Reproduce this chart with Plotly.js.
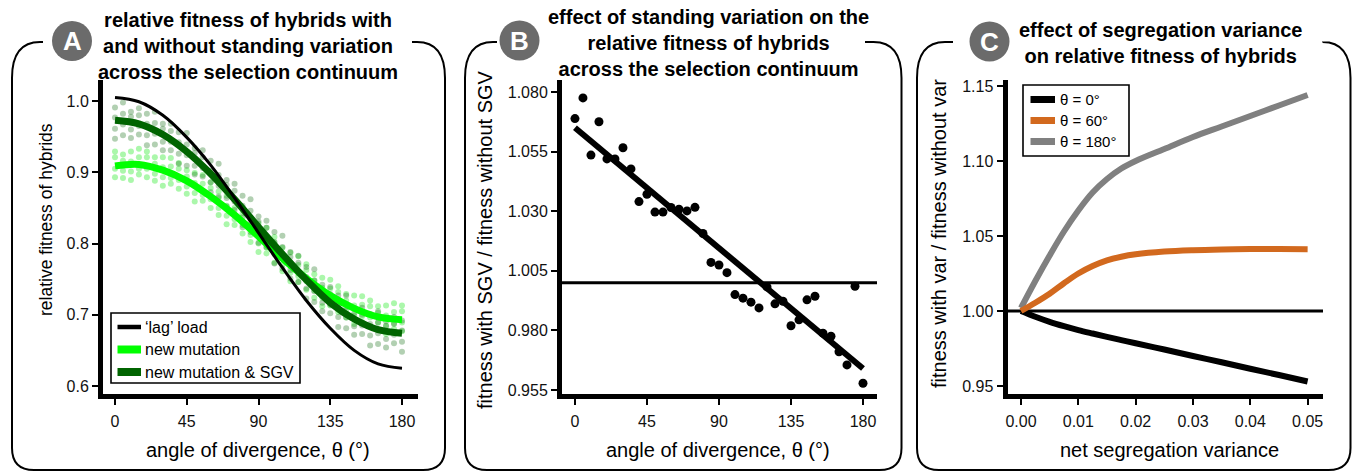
<!DOCTYPE html>
<html>
<head>
<meta charset="utf-8">
<script src="https://cdn.plot.ly/plotly-3.0.1.min.js"></script>
<style>html,body{margin:0;padding:0;background:#fff;}#chart{width:1354px;height:472px;}</style>
</head>
<body>
<div id="chart"></div>
<script>
// ---------------- DATA ----------------
// Panel A: fitted curves (angle of divergence, degrees)
const thetaCurve = [0, 15, 30, 45, 60, 75, 90, 105, 120, 135, 150, 165, 180];
const lagLoad    = [1.005, 0.999, 0.980, 0.949, 0.910, 0.864, 0.815, 0.766, 0.720, 0.681, 0.650, 0.631, 0.625];
const newMutFit  = [0.909, 0.911, 0.903, 0.888, 0.866, 0.840, 0.810, 0.779, 0.751, 0.727, 0.709, 0.697, 0.693];
const sgvFit     = [0.973, 0.968, 0.953, 0.929, 0.898, 0.862, 0.823, 0.785, 0.749, 0.717, 0.694, 0.679, 0.674];
// Panel A: simulation replicates (one row per angle)
const thetaDots = [0,5,10,15,20,25,30,35,40,45,50,55,60,65,70,75,80,85,90,95,100,105,110,115,120,125,130,135,140,145,150,155,160,165,170,175,180];
const sgvDots = [
 [0.991,0.961,0.977,0.947],[0.952,0.982,0.998,0.967],[0.978,0.948,0.985,0.960],[0.953,0.990,0.965,0.980],
 [0.982,0.952,0.968,0.938],[0.939,0.969,0.985,0.954],[0.961,0.931,0.968,0.943],[0.931,0.968,0.943,0.958],
 [0.956,0.926,0.942,0.912],[0.909,0.939,0.955,0.924],[0.927,0.897,0.934,0.909],[0.894,0.931,0.906,0.921],
 [0.916,0.886,0.902,0.872],[0.866,0.896,0.912,0.881],[0.882,0.852,0.889,0.864],[0.847,0.884,0.859,0.874],
 [0.867,0.837,0.853,0.823],[0.816,0.846,0.862,0.831],[0.831,0.801,0.838,0.813],[0.795,0.832,0.807,0.822],
 [0.816,0.786,0.802,0.772],[0.765,0.795,0.811,0.780],[0.781,0.751,0.788,0.763],[0.746,0.783,0.758,0.773],
 [0.767,0.737,0.753,0.723],[0.718,0.748,0.764,0.733],[0.735,0.705,0.742,0.717],[0.702,0.739,0.714,0.729],
 [0.727,0.697,0.713,0.683],[0.681,0.711,0.727,0.696],[0.702,0.672,0.709,0.684],[0.673,0.710,0.685,0.700],
 [0.701,0.671,0.687,0.657],[0.659,0.689,0.705,0.674],[0.684,0.654,0.691,0.666],[0.660,0.697,0.672,0.687],
 [0.692,0.662,0.678,0.648]
];
const newDots = [
 [0.893,0.921,0.905,0.929],[0.925,0.892,0.916,0.902],[0.901,0.929,0.889,0.915],[0.921,0.905,0.933,0.897],
 [0.893,0.921,0.905,0.929],[0.921,0.888,0.912,0.898],[0.893,0.921,0.881,0.907],[0.908,0.892,0.920,0.884],
 [0.877,0.905,0.889,0.913],[0.903,0.870,0.894,0.880],[0.871,0.899,0.859,0.885],[0.884,0.868,0.896,0.860],
 [0.850,0.878,0.862,0.886],[0.873,0.840,0.864,0.850],[0.839,0.867,0.827,0.853],[0.850,0.834,0.862,0.826],
 [0.814,0.842,0.826,0.850],[0.835,0.802,0.826,0.812],[0.800,0.828,0.788,0.814],[0.810,0.794,0.822,0.786],
 [0.773,0.801,0.785,0.809],[0.794,0.761,0.785,0.771],[0.759,0.787,0.747,0.773],[0.770,0.754,0.782,0.746],
 [0.735,0.763,0.747,0.771],[0.757,0.724,0.748,0.734],[0.724,0.752,0.712,0.738],[0.737,0.721,0.749,0.713],
 [0.704,0.732,0.716,0.740],[0.729,0.696,0.720,0.706],[0.699,0.727,0.687,0.713],[0.714,0.698,0.726,0.690],
 [0.684,0.712,0.696,0.720],[0.712,0.679,0.703,0.689],[0.685,0.713,0.673,0.699],[0.704,0.688,0.716,0.680],
 [0.677,0.705,0.689,0.713]
];
const namesA = ["\u2018lag\u2019 load", "new mutation", "new mutation & SGV"];
const colorsA = ["#000000", "#00ff00", "#006400"];

// Panel B: fitness with SGV / fitness without SGV
const thetaB = [0,5,10,15,20,25,30,35,40,45,50,55,60,65,70,75,80,85,90,95,100,105,110,115,120,125,130,135,140,145,150,155,160,165,170,175,180];
const ratioB = [1.0688,1.0775,1.0535,1.0675,1.0519,1.0519,1.0566,1.0477,1.0340,1.0371,
                1.0296,1.0296,1.0315,1.0308,1.0301,1.0316,1.0206,1.0085,1.0074,1.0042,
                0.9950,0.9935,0.9918,0.9894,0.9982,0.9911,0.9922,0.9819,0.9844,0.9928,
                0.9943,0.9788,0.9775,0.9710,0.9655,0.9985,0.9578];
const fitThetaB = [0, 180];
const fitB = [1.065, 0.964];

// Panel C: fitness with var / fitness without var vs net segregation variance
const segVar   = [0, 0.0025, 0.005, 0.0075, 0.01, 0.0125, 0.015, 0.0175, 0.02, 0.025, 0.03, 0.035, 0.04, 0.045, 0.05];
const theta0   = [1.000, 0.9962, 0.9928, 0.9899, 0.9873, 0.9850, 0.9828, 0.9806, 0.9785, 0.9743, 0.9700, 0.9658, 0.9615, 0.9573, 0.9530];
const theta60  = [1.000, 1.0055, 1.0115, 1.0185, 1.0250, 1.0300, 1.0338, 1.0362, 1.0378, 1.0396, 1.0405, 1.0410, 1.0413, 1.0413, 1.0411];
const theta180 = [1.002, 1.020, 1.037, 1.053, 1.067, 1.079, 1.088, 1.095, 1.100, 1.108, 1.116, 1.123, 1.130, 1.137, 1.144];
const namesC = ["\u03b8 = 0\u00b0", "\u03b8 = 60\u00b0", "\u03b8 = 180\u00b0"];
const colorsC = ["#000000", "#d2691e", "#808080"];

// Tick labels
const ticksTheta = [0, 45, 90, 135, 180];
const ticksA = [0.6, 0.7, 0.8, 0.9, 1.0];
const ticksB = [0.955, 0.980, 1.005, 1.030, 1.055, 1.080];
const ticksCx = [0, 0.01, 0.02, 0.03, 0.04, 0.05];
const ticksCy = [0.95, 1.00, 1.05, 1.10, 1.15];

// Titles
const panelTitles = [
  "relative fitness of hybrids with<br>and without standing variation<br>across the selection continuum",
  "effect of standing variation on the<br>relative fitness of hybrids<br>across the selection continuum",
  "effect of segregation variance<br>on relative fitness of hybrids"
];
const xTitles = ["angle of divergence, \u03b8 (\u00b0)", "angle of divergence, \u03b8 (\u00b0)", "net segregation variance"];
const yTitles = ["relative fitness of hybrids", "fitness with SGV / fitness without SGV", "fitness with var / fitness without var"];
const badges = ["A", "B", "C"];

// ---------------- LAYOUT HELPERS ----------------
const W = 1354, H = 472;
const FONT = "Liberation Sans, Arial, Helvetica, sans-serif";
const px = x => x / W;
const py = y => 1 - y / H;

function flatten(rows) {
  const xs = [], ys = [];
  rows.forEach((r, i) => r.forEach(v => { xs.push(thetaDots[i]); ys.push(v); }));
  return {xs, ys};
}
const sgvF = flatten(sgvDots), newF = flatten(newDots);

const traces = [
  {x: newF.xs, y: newF.ys, xaxis: 'x', yaxis: 'y', mode: 'markers',
   marker: {size: 6, color: 'rgba(0,230,0,0.33)'}},
  {x: sgvF.xs, y: sgvF.ys, xaxis: 'x', yaxis: 'y', mode: 'markers',
   marker: {size: 6, color: 'rgba(0,100,0,0.3)'}},
  {x: thetaCurve, y: newMutFit, xaxis: 'x', yaxis: 'y', mode: 'lines', name: namesA[1],
   line: {color: colorsA[1], width: 7, shape: 'spline'}},
  {x: thetaCurve, y: sgvFit, xaxis: 'x', yaxis: 'y', mode: 'lines', name: namesA[2],
   line: {color: colorsA[2], width: 7, shape: 'spline'}},
  {x: thetaCurve, y: lagLoad, xaxis: 'x', yaxis: 'y', mode: 'lines', name: namesA[0],
   line: {color: colorsA[0], width: 3, shape: 'spline'}},

  {x: fitThetaB, y: fitB, xaxis: 'x2', yaxis: 'y2', mode: 'lines',
   line: {color: '#000', width: 6}},
  {x: thetaB, y: ratioB, xaxis: 'x2', yaxis: 'y2', mode: 'markers',
   marker: {size: 9, color: '#000'}},

  {x: segVar, y: theta0, xaxis: 'x3', yaxis: 'y3', mode: 'lines', name: namesC[0],
   line: {color: colorsC[0], width: 6, shape: 'spline'}},
  {x: segVar, y: theta180, xaxis: 'x3', yaxis: 'y3', mode: 'lines', name: namesC[2],
   line: {color: colorsC[2], width: 6, shape: 'spline'}},
  {x: segVar, y: theta60, xaxis: 'x3', yaxis: 'y3', mode: 'lines', name: namesC[1],
   line: {color: colorsC[1], width: 6, shape: 'spline'}}
];

const yDom = [py(393.5), py(80)];
function axisBase(extra) {
  return Object.assign({
    showline: true, linecolor: '#000', linewidth: 5, mirror: false,
    ticks: 'outside', ticklen: 6, tickwidth: 2, tickcolor: '#000',
    tickfont: {family: FONT, size: 16, color: '#111'},
    showgrid: false, zeroline: false, fixedrange: true, automargin: false
  }, extra);
}

// rounded bracket boxes around each panel
function boxPath(L, R, T, B, segL, segR) {
  const rx = 28, ry = 36, rb = 22;
  return `M${px(segL)},${py(T)} L${px(L + rx)},${py(T)} Q${px(L)},${py(T)} ${px(L)},${py(T + ry)} ` +
         `L${px(L)},${py(B - rb)} Q${px(L)},${py(B)} ${px(L + rb)},${py(B)} ` +
         `L${px(R - rb)},${py(B)} Q${px(R)},${py(B)} ${px(R)},${py(B - rb)} ` +
         `L${px(R)},${py(T + ry)} Q${px(R)},${py(T)} ${px(R - rx)},${py(T)} L${px(segR)},${py(T)}`;
}
const boxes = [
  {L: 12, R: 445, segL: 43, segR: 412},
  {L: 465, R: 901.5, segL: 497, segR: 865},
  {L: 917, R: 1350.5, segL: 953, segR: 1323}
];
const badgePos = [[72, 41], [519.5, 40.5], [989.5, 41.5]];

const shapes = [];
const annotations = [];
boxes.forEach(b => shapes.push({type: 'path', xref: 'paper', yref: 'paper',
  path: boxPath(b.L, b.R, 42, 470, b.segL, b.segR), line: {color: '#000', width: 2}, fillcolor: 'rgba(0,0,0,0)'}));
badgePos.forEach(([cx, cy]) => shapes.push({type: 'circle', xref: 'paper', yref: 'paper',
  x0: px(cx - 20), x1: px(cx + 20), y0: py(cy + 20), y1: py(cy - 20),
  fillcolor: '#6b6b6b', line: {width: 0}}));
shapes.push({type: 'line', xref: 'x2 domain', yref: 'y2', x0: 0, x1: 1, y0: 1, y1: 1, layer: 'below',
  line: {color: '#000', width: 3}});
shapes.push({type: 'line', xref: 'x3 domain', yref: 'y3', x0: 0, x1: 1, y0: 1, y1: 1, layer: 'below',
  line: {color: '#000', width: 3}});

// legends (box + swatch + label)
function addLegend(box, names, colors, widths, rowsY, swX0, swX1, textX, fontSize) {
  shapes.push({type: 'rect', xref: 'paper', yref: 'paper', x0: px(box[0]), x1: px(box[2]), y0: py(box[3]), y1: py(box[1]),
    line: {color: '#000', width: 1.6}, fillcolor: '#fff'});
  names.forEach((n, i) => {
    shapes.push({type: 'line', xref: 'paper', yref: 'paper', x0: px(swX0), x1: px(swX1), y0: py(rowsY[i]), y1: py(rowsY[i]),
      line: {color: colors[i], width: widths[i]}});
    annotations.push({xref: 'paper', yref: 'paper', x: px(textX), y: py(rowsY[i]), xanchor: 'left', yanchor: 'middle',
      showarrow: false, text: n, font: {family: FONT, size: fontSize, color: '#000'}});
  });
}
addLegend([111, 313, 300, 383], namesA, colorsA, [4.5, 8, 8], [327, 349.5, 372], 117.5, 141, 143, 16);
addLegend([1023, 85, 1129, 156], namesC, colorsC, [7, 7, 7], [99.5, 120.5, 141.5], 1030.5, 1055, 1058, 15);

const titlePos = [[248, 46], [708, 43], [1160, 42.5]];
panelTitles.forEach((t, i) => annotations.push({xref: 'paper', yref: 'paper', x: px(titlePos[i][0]), y: py(titlePos[i][1]),
  xanchor: 'center', yanchor: 'middle', showarrow: false, text: '<b>' + t + '</b>',
  font: {family: FONT, size: 20, color: '#000'}}));
badges.forEach((b, i) => annotations.push({xref: 'paper', yref: 'paper', x: px(badgePos[i][0]), y: py(badgePos[i][1]),
  xanchor: 'center', yanchor: 'middle', showarrow: false, text: '<b>' + b + '</b>',
  font: {family: FONT, size: 26, color: '#fff'}}));
const xTitlePos = [257.5, 717.5, 1169];
xTitles.forEach((t, i) => annotations.push({xref: 'paper', yref: 'paper', x: px(xTitlePos[i]), y: py(450),
  xanchor: 'center', yanchor: 'middle', showarrow: false, text: t,
  font: {family: FONT, size: 20, color: '#000'}}));
const yTitlePos = [[46, 220, 17.5], [485, 240, 20], [939, 234, 20]];
yTitles.forEach((t, i) => annotations.push({xref: 'paper', yref: 'paper', x: px(yTitlePos[i][0]), y: py(yTitlePos[i][1]),
  xanchor: 'center', yanchor: 'middle', showarrow: false, text: t, textangle: -90,
  font: {family: FONT, size: yTitlePos[i][2], color: '#000'}}));

const layout = {
  width: W, height: H,
  margin: {l: 0, r: 0, t: 0, b: 0, pad: 0},
  paper_bgcolor: '#fff', plot_bgcolor: 'rgba(0,0,0,0)',
  font: {family: FONT, color: '#000'},
  hovermode: false,
  showlegend: false,
  xaxis: axisBase({domain: [px(103), px(418)], range: [-7.53, 190.04], tickvals: ticksTheta, anchor: 'y', ticklabelstandoff: 3}),
  yaxis: axisBase({domain: yDom, range: [0.5895, 1.0295], tickvals: ticksA, tickformat: '.1f', anchor: 'x'}),
  xaxis2: axisBase({domain: [px(562), px(877)], range: [-8.1, 188.75], tickvals: ticksTheta, anchor: 'y2', ticklabelstandoff: 3}),
  yaxis2: axisBase({domain: yDom, range: [0.9535, 1.085], tickvals: ticksB, tickformat: '.3f', anchor: 'x2'}),
  xaxis3: axisBase({domain: [px(1007.5), px(1323)], range: [-0.00235, 0.05268], tickvals: ticksCx, tickformat: '.2f', anchor: 'y3', ticklabelstandoff: 3}),
  yaxis3: axisBase({domain: yDom, range: [0.945, 1.154], tickvals: ticksCy, tickformat: '.2f', anchor: 'x3'}),
  shapes: shapes,
  annotations: annotations
};

Plotly.newPlot('chart', traces, layout, {displayModeBar: false, staticPlot: true});
</script>
</body>
</html>
